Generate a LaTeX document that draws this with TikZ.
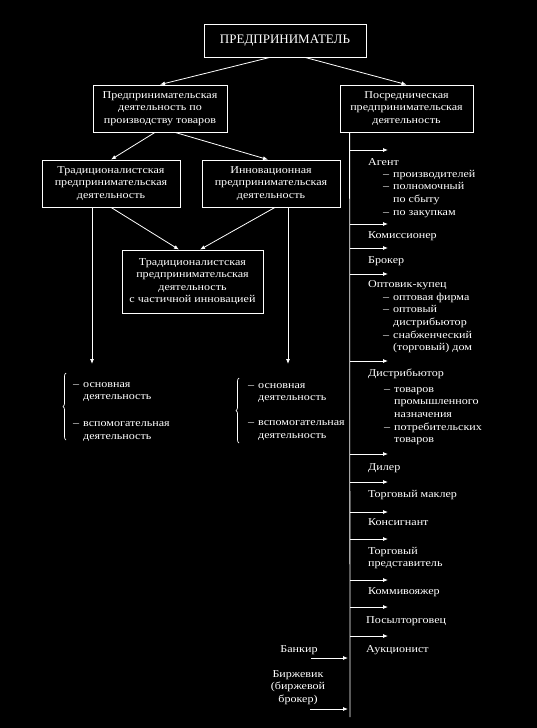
\documentclass[tikz,border=0pt]{standalone}
\usepackage{fontspec}
\setmainfont{Liberation Serif}[FakeStretch=1.15]
\newfontfamily\titlefnt{Liberation Serif}
\usetikzlibrary{arrows.meta,decorations.pathreplacing}
\newcommand\bodyfnt{\fontsize{10.5}{12.6}\selectfont}
\newcommand\dsh{\makebox[10pt][l]{–}}
\newcommand\ind{\hspace*{10pt}}
\tikzset{
  box/.style={draw=white, line width=0.8pt, text=white, align=center, inner sep=0pt, font=\bodyfnt},
  arr/.style={draw=white, line width=0.8pt, -{Latex[length=5pt,width=4pt]}},
  ln/.style={draw=white, line width=0.8pt},
  lbl/.style={text=white, inner sep=0pt, anchor=north west, align=left, font=\bodyfnt},
  brc/.style={draw=white, line width=0.7pt, decorate, decoration={brace, amplitude=3pt}}
}
\begin{document}
\begin{tikzpicture}[x=1pt,y=-1pt]
\fill[black] (0,0) rectangle (537,728);
\useasboundingbox (0,0) rectangle (537,728);

% boxes
\node[box, minimum width=162pt, minimum height=33pt, font=\titlefnt\fontsize{13}{15}\selectfont] (top) at (285,40.5) {ПРЕДПРИНИМАТЕЛЬ};
\node[box, minimum width=134pt, minimum height=47pt] (prod) at (160,108.5) {Предпринимательская\\деятельность по\\производству товаров};
\node[box, minimum width=133pt, minimum height=47pt] (posr) at (406.5,108.5) {Посредническая\\предпринимательская\\деятельность};
\node[box, minimum width=138pt, minimum height=47pt] (trad) at (111,183.5) {Традиционалистская\\предпринимательская\\деятельность};
\node[box, minimum width=138pt, minimum height=47pt] (innov) at (271,183.5) {Инновационная\\предпринимательская\\деятельность};
\node[box, minimum width=141pt, minimum height=63pt] (mix) at (192.5,281.5) {Традиционалистская\\предпринимательская\\деятельность\\с частичной инновацией};

% arrows between boxes
\draw[arr] ([xshift=-15pt]top.south) -- (prod.north);
\draw[arr] ([xshift=20pt]top.south) -- (posr.north);
\draw[arr] ([xshift=-5pt]prod.south) -- (trad.north);
\draw[arr] ([xshift=15pt]prod.south) -- ([xshift=-3pt]innov.north);
\draw[arr] (trad.south) -- ([xshift=-13.5pt]mix.north);
\draw[arr] ([xshift=4pt]innov.south) -- ([xshift=7.5pt]mix.north);

% vertical arrows to lists
\coordinate (lend) at (92,364);
\coordinate (mend) at (288,364);
\draw[arr] ([xshift=-19pt]trad.south) -- (lend);
\draw[arr] ([xshift=17pt]innov.south) -- (mend);

% left lists
\node[lbl] (llist) at (73,378.25) {\strut\dsh основная\\\ind деятельность\\[14pt]\dsh вспомогательная\\\ind деятельность};
\node[lbl] (mlist) at (248,379.25) {\strut\dsh основная\\\ind деятельность\\[12pt]\dsh вспомогательная\\\ind деятельность};
\coordinate (lb1) at (66,440);
\coordinate (lb2) at (66,373);
\coordinate (mb1) at (239,443);
\coordinate (mb2) at (239,378);
\draw[brc] (lb1) -- (lb2);
\draw[brc] (mb1) -- (mb2);

% spine
\coordinate (spend) at (350,717);
\draw[ln] ([xshift=10pt]posr.south west) -- (spend);

\foreach \yy [count=\i] in {150,224,248,274,361,454,482,512,539,580,607,636} {
  \coordinate (s\i) at (350,\yy);
  \coordinate (e\i) at (388,\yy);
  \draw[arr] (s\i) -- (e\i);
}

% right labels
\node[lbl] (agent) at (368,156.25) {\strut Агент};
\node[lbl] (agsub) at (383,168.25) {\strut\dsh производителей\\\dsh полномочный\\\ind по сбыту\\\dsh по закупкам};
\node[lbl] (komis) at (368,229.25) {\strut Комиссионер};
\node[lbl] (broker) at (368,254.25) {\strut Брокер};
\node[lbl] (optov) at (368,278.25) {\strut Оптовик-купец};
\node[lbl] (opsub) at (383,291.25) {\strut\dsh оптовая фирма\\\dsh оптовый\\\ind дистрибьютор\\\dsh снабженческий\\\ind (торговый) дом};
\node[lbl] (distr) at (368,367.25) {\strut Дистрибьютор};
\node[lbl] (disub) at (384,383.25) {\strut\dsh товаров\\\ind промышленного\\\ind назначения\\\dsh потребительских\\\ind товаров};
\node[lbl] (diler) at (368,461.25) {\strut Дилер};
\node[lbl] (makler) at (368,488.25) {\strut Торговый маклер};
\node[lbl] (konsig) at (368,516.25) {\strut Консигнант};
\node[lbl] (predst) at (368,545.25) {\strut Торговый\\представитель};
\node[lbl] (kommi) at (368,585.25) {\strut Коммивояжер};
\node[lbl] (posyl) at (366,614.25) {\strut Посылторговец};
\node[lbl] (aukc) at (366,643.25) {\strut Аукционист};

% incoming from left
\node[text=white, inner sep=0pt, anchor=base, font=\bodyfnt] (bank) at (299,652) {Банкир};
\node[text=white, inner sep=0pt, anchor=north, align=center, font=\bodyfnt] (birzh) at (298,668.25) {\strut Биржевик\\(биржевой\\брокер)};
\coordinate (bk1) at (311,658);
\coordinate (bk2) at (348,658);
\coordinate (bz1) at (310,709);
\coordinate (bz2) at (348,709);
\draw[arr] (bk1) -- (bk2);
\draw[arr] (bz1) -- (bz2);
\end{tikzpicture}
\end{document}
